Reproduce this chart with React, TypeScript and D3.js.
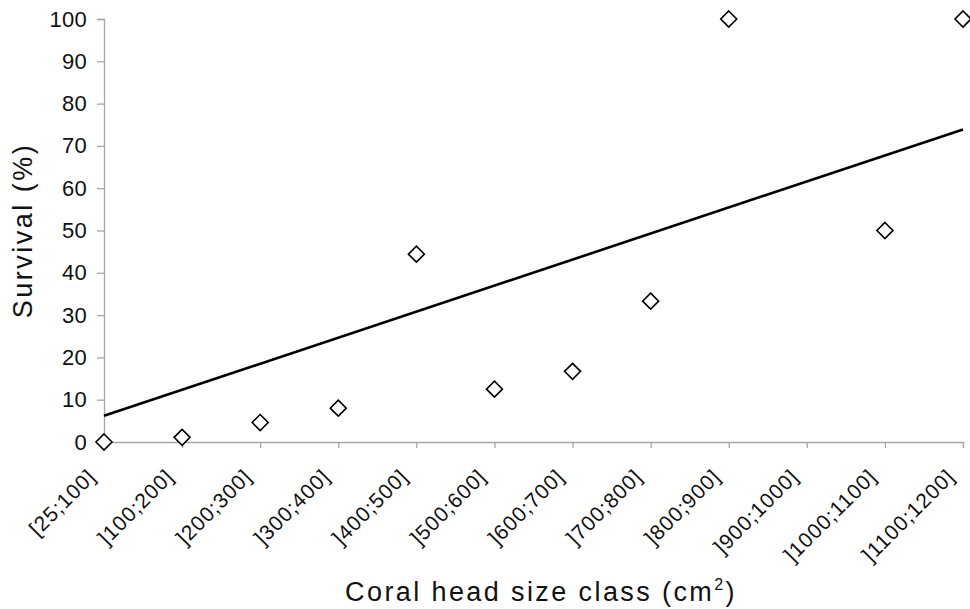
import { useEffect, useRef } from 'react'
import { select, scaleLinear, scalePoint, axisLeft, axisBottom, line } from 'd3'

const categories = [
  '[25;100]', ']100;200]', ']200;300]', ']300;400]', ']400;500]', ']500;600]',
  ']600;700]', ']700;800]', ']800;900]', ']900;1000]', ']1000;1100]', ']1100;1200]'
]
// survival (%) per size class, null = no observation
const survival = [0, 1.1, 4.6, 8, 44.4, 12.5, 16.7, 33.3, 100, null, 50, 100]
const yTicks = [0, 10, 20, 30, 40, 50, 60, 70, 80, 90, 100]
// linear trend, value at first and last class
const trend = [6.2, 73.9]

function App() {
  const svg_ref = useRef<SVGSVGElement>(null)
  const width = 970,
        height = 609
  const paddings = { left: 104, top: 19, right: 7, bottom: 167 }
  const font = '"Liberation Sans", Arial, sans-serif'
  const r = 8 // diamond half diagonal

  useEffect(() => {
    const svg = select(svg_ref.current)
    svg.selectAll('*').remove()

    const x = scalePoint<string>().domain(categories).range([paddings.left, width - paddings.right]),
          y = scaleLinear().domain([0, 100]).range([height - paddings.bottom, paddings.top])

    const y_axis = axisLeft(y).tickValues(yTicks).tickSize(7).tickPadding(10)
    const x_axis = axisBottom(x).tickSize(6).tickFormat(() => '')

    const gy = svg.append('g')
      .attr('transform', `translate(${x.range()[0]}, 0)`)
      .call(y_axis)
    gy.select('.domain').attr('stroke', '#a6a6a6').attr('stroke-width', 1.3)
    gy.selectAll('.tick line').attr('stroke', '#a6a6a6').attr('stroke-width', 1.3)
    gy.selectAll('.tick text')
      .attr('font-family', font)
      .attr('font-size', 22)
      .attr('letter-spacing', 0.3)
      .attr('fill', '#111')

    const gx = svg.append('g')
      .attr('transform', `translate(0, ${y.range()[0]})`)
      .call(x_axis)
    gx.select('.domain').attr('stroke', '#a6a6a6').attr('stroke-width', 1.3)
    gx.selectAll('.tick line').attr('stroke', '#a6a6a6').attr('stroke-width', 1.3)

    // rotated category labels
    svg.append('g')
      .selectAll('text')
      .data(categories)
      .join('text')
      .attr('transform', d => `translate(${(x(d) ?? 0) - 7}, ${y(0) + 36}) rotate(-45)`)
      .attr('text-anchor', 'end')
      .attr('font-family', font)
      .attr('font-size', 21)
      .attr('letter-spacing', 1)
      .attr('fill', '#111')
      .text(d => d)

    // trend line
    svg.append('path')
      .datum([categories[0], categories[categories.length - 1]].map((c, i) => ({ c, v: trend[i] })))
      .attr('fill', 'none')
      .attr('stroke', '#000')
      .attr('stroke-width', 2.6)
      .attr('d', line<{ c: string, v: number }>()
        .x(d => x(d.c) ?? 0)
        .y(d => y(d.v))
      )

    // diamonds
    const pts = categories
      .map((c, i) => ({ c, v: survival[i] }))
      .filter(d => d.v !== null) as { c: string, v: number }[]
    svg.append('g')
      .selectAll('path')
      .data(pts)
      .join('path')
      .attr('d', `M0,${-r}L${r},0L0,${r}L${-r},0Z`)
      .attr('transform', d => `translate(${x(d.c)}, ${y(d.v)})`)
      .attr('fill', '#fff')
      .attr('stroke', '#000')
      .attr('stroke-width', 1.6)

    // axis titles
    svg.append('text')
      .attr('transform', `translate(32, ${(y(0) + y(100)) / 2}) rotate(-90)`)
      .attr('text-anchor', 'middle')
      .attr('font-family', font)
      .attr('font-size', 27)
      .attr('letter-spacing', 2.5)
      .attr('fill', '#111')
      .text('Survival (%)')

    const xt = svg.append('text')
      .attr('x', 541)
      .attr('y', 601)
      .attr('text-anchor', 'middle')
      .attr('font-family', font)
      .attr('font-size', 27)
      .attr('letter-spacing', 2.4)
      .attr('fill', '#111')
    xt.append('tspan').text('Coral head size class (cm')
    xt.append('tspan').attr('font-size', 16).attr('dy', -11).text('2')
    xt.append('tspan').attr('dy', 11).text(')')
  }, [])

  return (
    <div style={{ position: 'fixed', left: 0, top: 0, background: '#fff' }}>
      <svg ref={svg_ref} width={width} height={height} viewBox={`0 0 ${width} ${height}`} style={{ display: 'block' }}></svg>
    </div>
  )
}

export default App
